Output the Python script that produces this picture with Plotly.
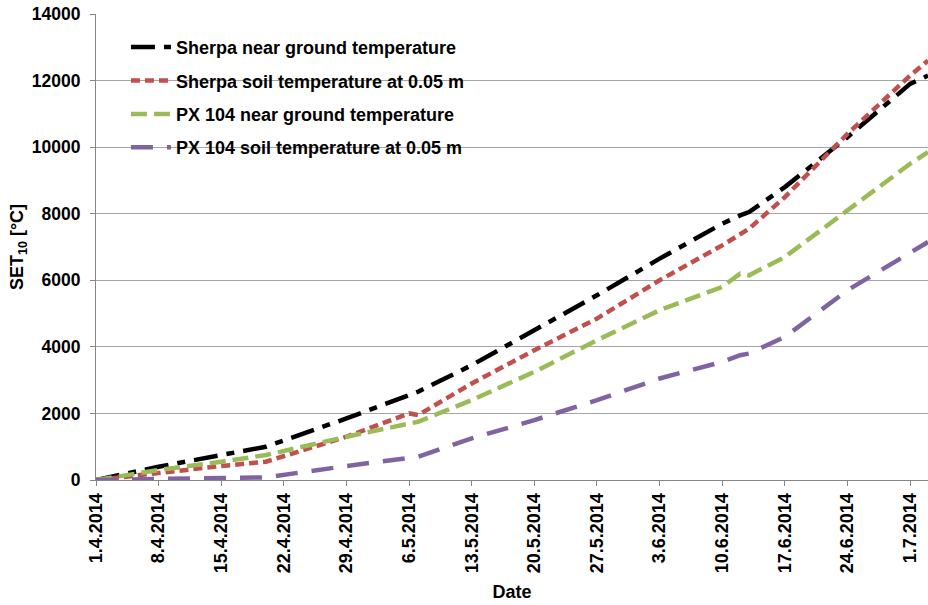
import plotly.graph_objects as go
from datetime import date, timedelta

# ---- data ----
day_offsets = [0, 7, 14, 19, 28, 35, 36, 42, 49, 56, 63, 70, 72, 73, 77, 84, 91, 93]
sherpa_ground = [0, 400, 750, 1000, 1850, 2550, 2650, 3450, 4500, 5550, 6650, 7700, 7950, 8050, 8800, 10300, 11900, 12150]
sherpa_soil = [0, 220, 420, 550, 1300, 2000, 1950, 2900, 3900, 4850, 6000, 7050, 7400, 7550, 8500, 10400, 12150, 12600]
px104_ground = [0, 300, 550, 750, 1300, 1700, 1750, 2400, 3250, 4200, 5100, 5800, 6200, 6150, 6700, 8100, 9500, 9850]
px104_soil = [0, 30, 50, 80, 420, 680, 700, 1250, 1800, 2400, 3050, 3550, 3750, 3800, 4300, 5700, 6800, 7150]

series_names = ["Sherpa near ground temperature", "Sherpa soil temperature at 0.05 m",
                "PX 104 near ground temperature", "PX 104 soil temperature at 0.05 m"]
tick_labels = ["1.4.2014", "8.4.2014", "15.4.2014", "22.4.2014", "29.4.2014", "6.5.2014",
               "13.5.2014", "20.5.2014", "27.5.2014", "3.6.2014", "10.6.2014", "17.6.2014",
               "24.6.2014", "1.7.2014"]
y_ticks = [0, 2000, 4000, 6000, 8000, 10000, 12000, 14000]
y_tick_labels = ["0", "2000", "4000", "6000", "8000", "10000", "12000", "14000"]

start = date(2014, 4, 1)
dates = [start + timedelta(days=d) for d in day_offsets]
tick_dates = [start + timedelta(days=7 * i) for i in range(len(tick_labels))]

FONT = "Liberation Sans, Arial, sans-serif"
FS = 18
colors = ["#000000", "#C0504D", "#9BBB59", "#8064A2"]
dashes = ["24px,9px,8px,9px", "9px,5px", "16px,7px", "22px,14px"]
values = [sherpa_ground, sherpa_soil, px104_ground, px104_soil]

fig = go.Figure()
for i, (name, vals) in enumerate(zip(series_names, values)):
    fig.add_trace(go.Scatter(
        x=dates, y=vals, mode="lines", name=name, legendgroup=str(i),
        line=dict(color=colors[i], width=4.5, dash=dashes[i]),
    ))

fig.update_layout(
    width=928, height=605,
    margin=dict(l=96, r=0, t=14, b=125, autoexpand=False),
    paper_bgcolor="white", plot_bgcolor="white",
    font=dict(family=FONT, size=FS, color="black", weight="bold"),
    showlegend=True,
    legend=dict(x=0.036, y=0.968, xanchor="left", yanchor="top",
                bgcolor="rgba(0,0,0,0)", tracegroupgap=7,
                font=dict(family=FONT, size=FS, weight="bold"),
                itemwidth=40),
    xaxis=dict(
        type="date", automargin=False,
        range=[start, start + timedelta(days=93)],
        tickvals=tick_dates, ticktext=tick_labels, tickangle=-90,
        ticks="outside", ticklen=5, tickcolor="#868686",
        showline=True, linecolor="#868686", linewidth=1,
        showgrid=False, zeroline=False,
        tickfont=dict(family=FONT, size=FS, weight="bold"),
        title=dict(text="Date", font=dict(family=FONT, size=FS, weight="bold"), standoff=13),
    ),
    yaxis=dict(
        automargin=False,
        range=[0, 14000], tickvals=y_ticks, ticktext=y_tick_labels,
        ticks="outside", ticklen=5, tickcolor="#868686", ticklabelstandoff=6,
        ticklabeloverflow="allow",
        showline=True, linecolor="#868686", linewidth=1,
        showgrid=True, gridcolor="#A6A6A6", gridwidth=1,
        zeroline=False,
        tickfont=dict(family=FONT, size=17.5, weight="bold"),
        title=dict(text="SET<sub>10</sub> [°C]", font=dict(family=FONT, size=FS, weight="bold"), standoff=3),
    ),
)

fig.write_html("out.html", config={"displayModeBar": False},
               post_script="document.body.style.margin='0';")
